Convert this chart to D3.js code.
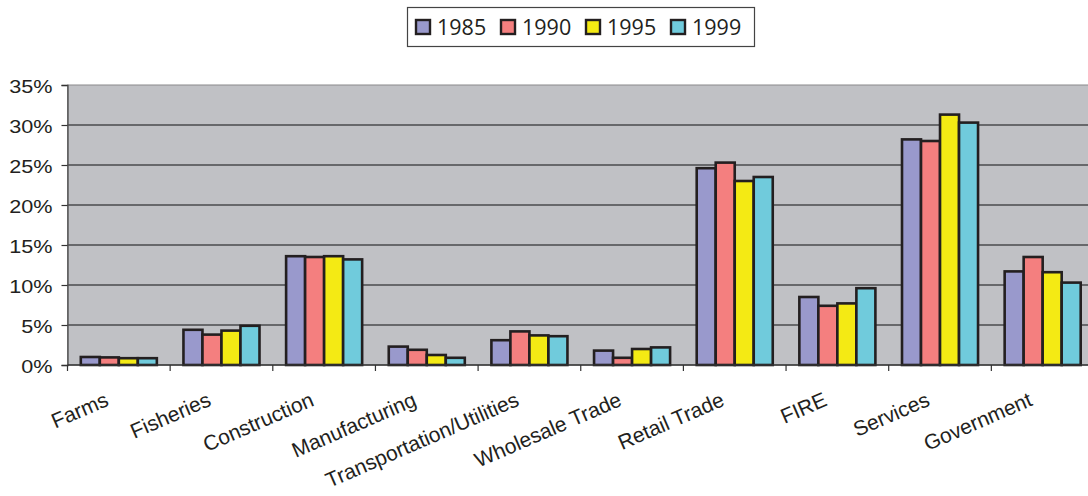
<!DOCTYPE html>
<html>
<head>
<meta charset="utf-8">
<script src="https://cdn.jsdelivr.net/npm/d3@7"></script>
<style>
  html, body { margin: 0; padding: 0; background: #fff; }
  svg { display: block; }
</style>
</head>
<body>
<svg id="chart" width="1088" height="496"></svg>
<script>
// Share of employment by industry, selected years (percent)
const categories = ["Farms", "Fisheries", "Construction", "Manufacturing",
  "Transportation/Utilities", "Wholesale Trade", "Retail Trade", "FIRE",
  "Services", "Government"];
const seriesNames = ["1985", "1990", "1995", "1999"];
const values1985 = [1.0, 4.4, 13.6, 2.3, 3.1, 1.8, 24.6, 8.5, 28.2, 11.7];
const values1990 = [0.95, 3.8, 13.5, 1.9, 4.2, 0.9, 25.3, 7.4, 28.0, 13.5];
const values1995 = [0.85, 4.3, 13.6, 1.25, 3.7, 2.0, 23.0, 7.7, 31.3, 11.6];
const values1999 = [0.85, 4.9, 13.2, 0.9, 3.6, 2.2, 23.5, 9.6, 30.3, 10.3];
const yTicks = [0, 5, 10, 15, 20, 25, 30, 35];
const colors = ["#9999cc", "#f47f7f", "#f4ea14", "#70cbdc"];

const seriesValues = [values1985, values1990, values1995, values1999];
const rows = categories.map((c, i) => ({
  category: c,
  values: seriesNames.map((s, j) => ({ series: s, value: seriesValues[j][i], color: colors[j] }))
}));

const svg = d3.select("#chart");
const plot = { left: 67.5, right: 1094, top: 85, bottom: 365 };

const x0 = d3.scaleBand().domain(categories).range([plot.left, plot.right]).padding(0);
const x1 = d3.scaleBand().domain(seriesNames).range([0, x0.bandwidth()])
  .paddingInner(0).paddingOuter(0.7);
const y = d3.scaleLinear().domain([0, 35]).range([plot.bottom, plot.top]);

// plot background
svg.append("rect")
  .attr("x", plot.left).attr("y", plot.top)
  .attr("width", plot.right - plot.left).attr("height", plot.bottom - plot.top)
  .attr("fill", "#c0c1c5").attr("stroke", "#8a8a8c").attr("stroke-width", 1);

// horizontal gridlines
svg.append("g").selectAll("line")
  .data(yTicks.filter(t => t > 0 && t < 35))
  .join("line")
  .attr("x1", plot.left).attr("x2", plot.right)
  .attr("y1", d => y(d)).attr("y2", d => y(d))
  .attr("stroke", "#4a4a4c").attr("stroke-width", 1.4);

// y axis
const yAxis = svg.append("g")
  .attr("transform", `translate(${plot.left},0)`)
  .call(d3.axisLeft(y).tickValues(yTicks).tickFormat(d => d + "%").tickSize(6).tickPadding(0));
yAxis.select(".domain").attr("stroke", "#555").attr("stroke-width", 1.4);
yAxis.selectAll(".tick line").attr("stroke", "#333").attr("stroke-width", 1.2);
yAxis.selectAll(".tick text")
  .attr("x", null).attr("dy", null)
  .attr("font-family", "Liberation Sans, Arial, sans-serif")
  .attr("font-size", 18.5)
  .attr("fill", "#231f20")
  .attr("text-anchor", "end")
  .attr("transform", "translate(-15,7) scale(1.17,1)");

// bars
const groups = svg.append("g").selectAll("g")
  .data(rows)
  .join("g")
  .attr("transform", d => `translate(${x0(d.category)},0)`);

groups.selectAll("rect")
  .data(d => d.values)
  .join("rect")
  .attr("x", d => x1(d.series))
  .attr("y", d => y(d.value))
  .attr("width", x1.bandwidth())
  .attr("height", d => y(0) - y(d.value))
  .attr("fill", d => d.color)
  .attr("stroke", "#231f20")
  .attr("stroke-width", 2.6);

// x axis line with category boundary ticks
svg.append("line")
  .attr("x1", plot.left).attr("x2", plot.right)
  .attr("y1", plot.bottom).attr("y2", plot.bottom)
  .attr("stroke", "#333").attr("stroke-width", 1.4);
svg.append("g").selectAll("line")
  .data(categories.map(c => x0(c)).concat([plot.right]))
  .join("line")
  .attr("x1", d => d).attr("x2", d => d)
  .attr("y1", plot.bottom).attr("y2", plot.bottom + 6)
  .attr("stroke", "#333").attr("stroke-width", 1.2);

// rotated category labels, right end anchored just left of each group centre
svg.append("g").selectAll("text")
  .data(categories)
  .join("text")
  .attr("transform", d => `translate(${x0(d) + x0.bandwidth() / 2 - 9},405) rotate(-23.5)`)
  .attr("text-anchor", "end")
  .attr("font-family", "Liberation Sans, Arial, sans-serif")
  .attr("font-size", 21)
  .attr("fill", "#231f20")
  .text(d => d);

// legend
const legend = svg.append("g");
legend.append("rect")
  .attr("x", 407.5).attr("y", 7.5).attr("width", 347).attr("height", 39)
  .attr("fill", "#fff").attr("stroke", "#444").attr("stroke-width", 1.2);
const items = legend.selectAll("g.item")
  .data(seriesNames)
  .join("g")
  .attr("class", "item")
  .attr("transform", (d, i) => `translate(${416 + i * 85},0)`);
items.append("rect")
  .attr("x", 0).attr("y", 20).attr("width", 14).attr("height", 14)
  .attr("fill", (d, i) => colors[i])
  .attr("stroke", "#231f20").attr("stroke-width", 2.4);
items.append("text")
  .attr("x", 21).attr("y", 35)
  .attr("font-family", "Open Sans, sans-serif")
  .attr("font-size", 21.5)
  .attr("fill", "#231f20")
  .text(d => d);
</script>
</body>
</html>
